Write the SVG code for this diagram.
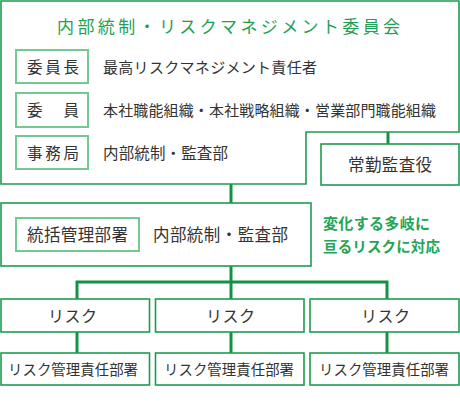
<svg xmlns="http://www.w3.org/2000/svg" width="460" height="409" viewBox="0 0 460 409">
<style>
.box{fill:#fff;stroke:#1f9c50;stroke-width:1.6}
.lbl{fill:#fff;stroke:#74c892;stroke-width:2}
.con{stroke:#139247;stroke-width:3;fill:none}
text{font-family:"Noto Sans CJK JP","Noto Sans CJK SC",sans-serif;fill:#333}
.g{fill:#1ea152}
.gb{fill:#22a556;font-weight:bold}
</style>
<rect width="460" height="409" fill="#fff"/>
<g id="connectors">
<line class="con" x1="231" y1="184" x2="231" y2="204"/>
<line class="con" x1="388" y1="132" x2="388" y2="145"/>
<line class="con" x1="231" y1="266" x2="231" y2="300"/>
<polyline class="con" points="77,300 77,282 387,282 387,300"/>
<line class="con" x1="77" y1="332" x2="77" y2="354"/>
<line class="con" x1="231" y1="332" x2="231" y2="354"/>
<line class="con" x1="387" y1="332" x2="387" y2="354"/>
</g>
<g id="committee">
<path class="box" d="M1,1 H459 V132 H306 V184 H1 Z"/>
<text class="g" x="57" y="32.5" font-size="17" textLength="343" lengthAdjust="spacing">内部統制・リスクマネジメント委員会</text>
<rect class="lbl" x="16" y="50" width="72" height="33"/>
<text x="27" y="72.5" font-size="15.5" textLength="52" lengthAdjust="spacing">委員長</text>
<text x="103" y="72.5" font-size="15" textLength="214" lengthAdjust="spacing">最高リスクマネジメント責任者</text>
<rect class="lbl" x="16" y="93" width="72" height="34"/>
<text x="27" y="116" font-size="15.5" textLength="52" lengthAdjust="spacing">委　員</text>
<text x="103" y="116" font-size="15" textLength="333" lengthAdjust="spacing">本社職能組織・本社戦略組織・営業部門職能組織</text>
<rect class="lbl" x="16" y="136" width="72" height="33"/>
<text x="27" y="158.5" font-size="15.5" textLength="52" lengthAdjust="spacing">事務局</text>
<text x="103" y="158.5" font-size="15.5" textLength="125" lengthAdjust="spacing">内部統制・監査部</text>
</g>
<g id="auditor">
<rect class="box" x="321" y="144" width="138" height="41"/>
<text x="348" y="171" font-size="16.5" textLength="84" lengthAdjust="spacing">常勤監査役</text>
</g>
<g id="control">
<rect class="box" x="1" y="203" width="310" height="63"/>
<rect class="lbl" x="16" y="218" width="123" height="33"/>
<text x="27" y="241" font-size="16.5" textLength="101" lengthAdjust="spacing">統括管理部署</text>
<text x="153" y="241" font-size="16.5" textLength="135" lengthAdjust="spacing">内部統制・監査部</text>
</g>
<g id="note">
<text class="gb" x="323" y="229" font-size="15" textLength="107" lengthAdjust="spacing">変化する多岐に</text>
<text class="gb" x="323" y="252" font-size="14.5" textLength="117" lengthAdjust="spacing">亘るリスクに対応</text>
</g>
<g id="risk1">
<rect class="box" x="1" y="299" width="148.5" height="33"/>
<text x="48" y="321.5" font-size="16" textLength="49" lengthAdjust="spacing">リスク</text>
</g>
<g id="risk2">
<rect class="box" x="155.5" y="299" width="148.5" height="33"/>
<text x="206" y="321.5" font-size="16" textLength="49" lengthAdjust="spacing">リスク</text>
</g>
<g id="risk3">
<rect class="box" x="310" y="299" width="149" height="33"/>
<text x="361" y="321.5" font-size="16" textLength="49" lengthAdjust="spacing">リスク</text>
</g>
<g id="dept1">
<rect class="box" x="1" y="353" width="148.5" height="32"/>
<text x="8" y="375" font-size="14.4" textLength="130" lengthAdjust="spacing">リスク管理責任部署</text>
</g>
<g id="dept2">
<rect class="box" x="155.5" y="353" width="148.5" height="32"/>
<text x="164" y="375" font-size="14.4" textLength="130" lengthAdjust="spacing">リスク管理責任部署</text>
</g>
<g id="dept3">
<rect class="box" x="310" y="353" width="149" height="32"/>
<text x="319" y="375" font-size="14.4" textLength="130" lengthAdjust="spacing">リスク管理責任部署</text>
</g>
</svg>
